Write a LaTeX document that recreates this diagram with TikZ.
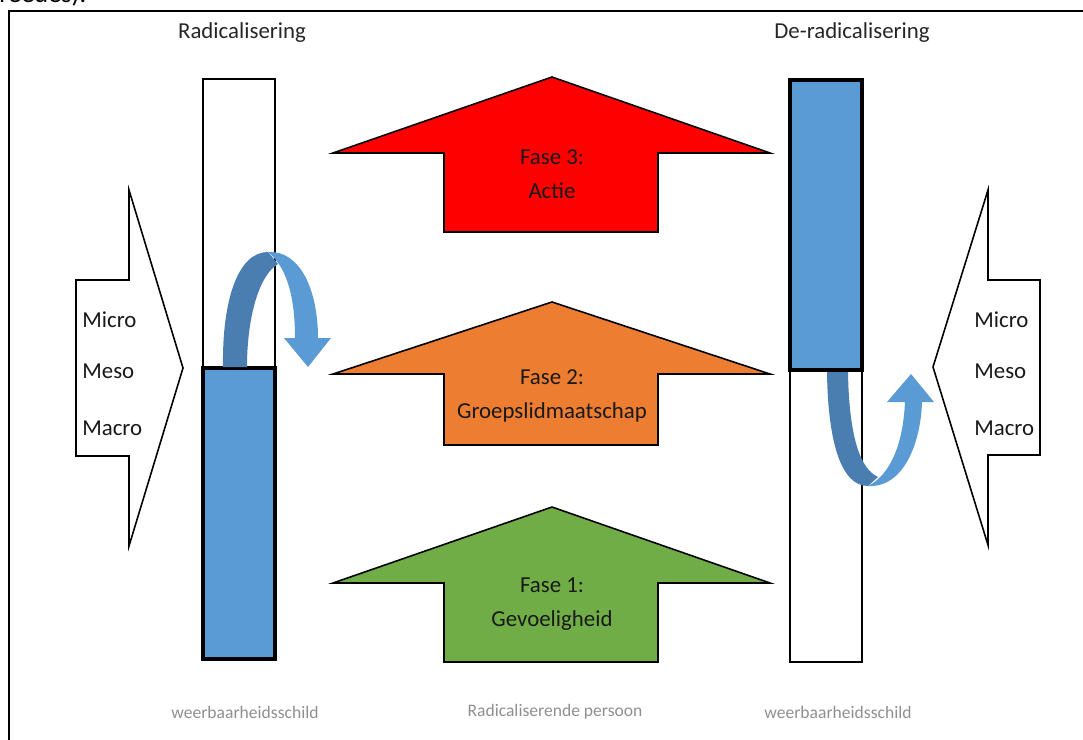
\documentclass[tikz,border=0pt]{standalone}
\usepackage{fontspec}
\setmainfont{Carlito}
\usetikzlibrary{positioning}
\definecolor{shieldblue}{HTML}{5B9BD5}
\definecolor{curldark}{HTML}{4A7EB1}
\definecolor{phaseone}{HTML}{70AD47}
\definecolor{phasetwo}{HTML}{ED7D31}
\definecolor{phasethree}{HTML}{FF0000}
\definecolor{capgray}{HTML}{8F8F8F}
\tikzset{
	frame/.style={draw=black, line width=1.7pt},
	phase/.style={draw=black, line width=0.9pt},
	shieldopen/.style={draw=black, line width=0.9pt, fill=white},
	shieldfull/.style={draw=black, line width=2pt, fill=shieldblue},
	level/.style={draw=black, line width=0.9pt, fill=white},
	heading/.style={font=\fontsize{13}{15}\selectfont, text=black!85},
	phasetext/.style={font=\fontsize{13}{19}\selectfont, align=center, text=black!90},
	levtext/.style={font=\fontsize{13}{15}\selectfont, anchor=west, inner sep=0pt, text=black!90},
	caption/.style={font=\fontsize{10}{12}\selectfont, text=capgray},
}

\begin{document}
\begin{tikzpicture}[x=0.02cm, y=-0.02cm]
	\useasboundingbox (0,0) rectangle (1083,740);

	% cut-off line of the page above
	\begin{scope}
		\clip (0,0) rectangle (1083,740);
		\node[anchor=base west, inner sep=0pt, font=\fontsize{15}{18}\selectfont] (prevline) at (-1,3) {reedes).};
	\end{scope}
	\draw[frame] (9,740) -- (9,11) -- (1083,11);

	% headings
	\node[heading] (radhead) at (242,33) {Radicalisering};
	\node[heading] (deradhead) at (852,33) {De-radicalisering};

	% left shield
	\draw[shieldopen] (203,79) rectangle (275,368);
	\draw[shieldfull] (203,368) rectangle (275,659);

	% right shield
	\draw[shieldopen] (790,370) rectangle (862,662);
	\draw[shieldfull] (790,80) rectangle (862,370);

	% levels, left
	\draw[level] (76,280) -- (129,280) -- (129,190) -- (183,368) -- (129,546) -- (129,456) -- (76,456) -- cycle;
	\node[levtext] (lmicro) at (82,320) {Micro};
	\node[levtext] (lmeso) at (82,371) {Meso};
	\node[levtext] (lmacro) at (82,428) {Macro};

	% levels, right
	\draw[level] (1040,280) -- (988,280) -- (988,190) -- (933,367) -- (988,545) -- (988,455) -- (1040,455) -- cycle;
	\node[levtext] (rmicro) at (974,320) {Micro};
	\node[levtext] (rmeso) at (974,371) {Meso};
	\node[levtext] (rmacro) at (974,428) {Macro};

	% phases
	\draw[phase, fill=phasethree] (333,153) -- (552,77) -- (770,153) -- (658,153) -- (658,232) -- (444,232) -- (444,153) -- cycle;
	\node[phasetext] (fase3) at (552,174) {Fase 3:\\Actie};

	\draw[phase, fill=phasetwo] (333,374) -- (552,302) -- (770,374) -- (658,374) -- (658,445) -- (444,445) -- (444,374) -- cycle;
	\node[phasetext] (fase2) at (552,396) {Fase 2:\\Groepslidmaatschap};

	\draw[phase, fill=phaseone] (333,583) -- (552,507) -- (770,583) -- (658,583) -- (658,662) -- (444,662) -- (444,583) -- cycle;
	\node[phasetext] (fase1) at (552,604) {Fase 1:\\Gevoeligheid};

	% curl over the left shield
	\fill[curldark] (223,367) .. controls (222,300) and (238,252) .. (268,252) -- (278,264) .. controls (258,276) and (247,320) .. (247,367) -- cycle;
	\fill[shieldblue] (268,252) .. controls (300,250) and (318,290) .. (318,338) -- (331,338) -- (308,367) -- (284,338) -- (295,338) .. controls (295,300) and (288,268) .. (268,252) -- cycle;

	% curl under the right shield
	\fill[curldark] (827,372) .. controls (828,445) and (842,486) .. (868,486) -- (878,477) .. controls (858,468) and (849,430) .. (848,372) -- cycle;
	\fill[shieldblue] (868,486) .. controls (905,488) and (921,440) .. (922,402) -- (934,402) -- (911,374) -- (887,402) -- (905,402) .. controls (903,445) and (890,475) .. (868,486) -- cycle;

	% captions
	\node[caption] (lshield) at (245,712) {weerbaarheidsschild};
	\node[caption] (person) at (555,712) {Radicaliserende persoon};
	\node[caption] (rshield) at (838,712) {weerbaarheidsschild};
\end{tikzpicture}
\end{document}
